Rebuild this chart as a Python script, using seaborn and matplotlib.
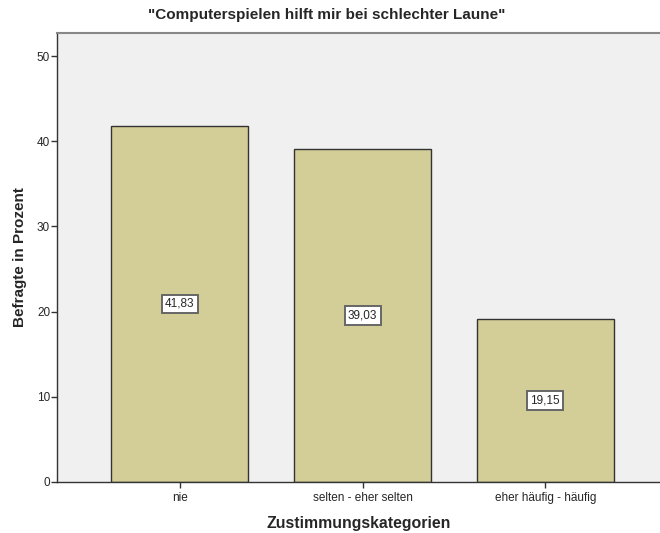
import pandas as pd
import matplotlib.pyplot as plt
import seaborn as sns

kategorien = ['nie', 'selten - eher selten', 'eher häufig - häufig']
prozent = [41.83, 39.03, 19.15]
etiketten = ['41,83', '39,03', '19,15']

df = pd.DataFrame({'Kategorie': kategorien, 'Prozent': prozent})

sns.set_style('white')
plt.rcParams['font.family'] = ['Liberation Sans', 'DejaVu Sans']

fig = plt.figure(figsize=(6.6, 5.33), dpi=100)
ax = fig.add_axes([0.0864, 0.0957, 0.9136, 0.8423])
ax.set_facecolor('#F0F0F0')

sns.barplot(data=df, x='Kategorie', y='Prozent', color='#D3CE97', saturation=1,
            width=0.75, edgecolor='#333333', linewidth=1, ax=ax)

# Werte in Kästchen in der Mitte der Balken
for i, (wert, text) in enumerate(zip(prozent, etiketten)):
    ax.text(i, wert / 2, text, ha='center', va='center', fontsize=8.5,
            bbox=dict(boxstyle='square,pad=0.28', facecolor='white', edgecolor='#666666', linewidth=1.4))

ax.set_xlim(-0.672, 2.628)
ax.set_ylim(0, 52.7)
ax.set_yticks([0, 10, 20, 30, 40, 50])
ax.tick_params(axis='both', which='major', direction='out', length=4, width=1,
               color='#333333', labelsize=8.5, bottom=True, left=True)
ax.tick_params(axis='x', pad=3)
ax.tick_params(axis='y', pad=1)

for side in ['left', 'bottom']:
    ax.spines[side].set_color('#333333')
    ax.spines[side].set_linewidth(1)
ax.spines['top'].set_color('#888888')
ax.spines['top'].set_linewidth(1.5)
ax.spines['right'].set_visible(False)

ax.set_xlabel('Zustimmungskategorien', fontsize=11.4, fontweight='bold', labelpad=9)
ax.set_ylabel('Befragte in Prozent', fontsize=11, fontweight='bold', labelpad=7)
fig.suptitle('"Computerspielen hilft mir bei schlechter Laune"', fontsize=11,
             fontweight='bold', x=0.495, y=0.985)
ax.grid(False)

plt.savefig('out.png', dpi=100)
